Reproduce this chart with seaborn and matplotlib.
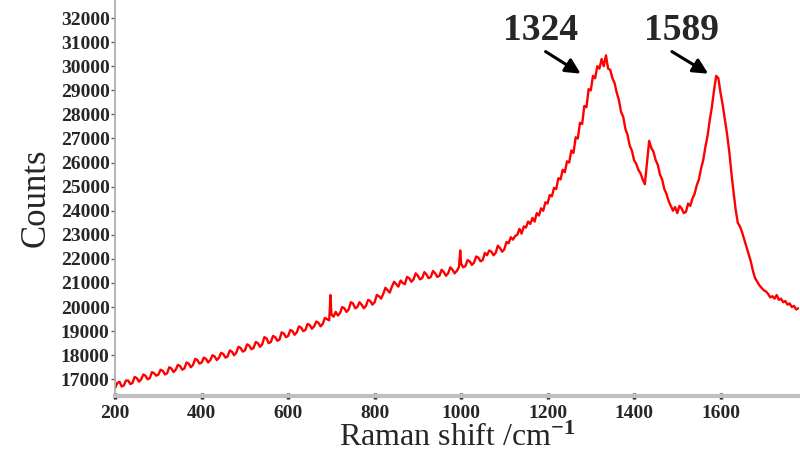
import matplotlib
matplotlib.use("Agg")
import matplotlib.pyplot as plt
import seaborn as sns
import pandas as pd
from matplotlib.ticker import MultipleLocator

raman_shift = [
    200, 205, 210, 215, 220, 225, 230, 235, 240, 245, 250, 255, 260, 265, 270, 275, 280, 285, 290, 295, 300,
    305, 310, 315, 320, 325, 330, 335, 340, 345, 350, 355, 360, 365, 370, 375, 380, 385, 390, 395, 400,
    405, 410, 415, 420, 425, 430, 435, 440, 445, 450, 455, 460, 465, 470, 475, 480, 485, 490, 495, 500,
    505, 510, 515, 520, 525, 530, 535, 540, 545, 550, 555, 560, 565, 570, 575, 580, 585, 590, 595, 600,
    605, 610, 615, 620, 625, 630, 635, 640, 645, 650, 655, 660, 665, 670, 675, 680, 685, 690, 695, 698, 700, 705,
    710, 715, 720, 725, 730, 735, 740, 745, 750, 755, 760, 765, 770, 775, 780, 785, 790, 795, 800,
    805, 810, 815, 820, 825, 830, 835, 840, 845, 850, 855, 860, 865, 870, 875, 880, 885, 890, 895, 900,
    905, 910, 915, 920, 925, 930, 935, 940, 945, 950, 955, 960, 965, 970, 975, 980, 985, 990, 995, 998, 1000,
    1005, 1010, 1015, 1020, 1025, 1030, 1035, 1040, 1045, 1050, 1055, 1060, 1065, 1070, 1075, 1080, 1085, 1090, 1095, 1100,
    1105, 1110, 1115, 1120, 1125, 1130, 1135, 1140, 1145, 1150, 1155, 1160, 1165, 1170, 1175, 1180, 1185, 1190, 1195, 1200,
    1205, 1210, 1215, 1220, 1225, 1230, 1235, 1240, 1245, 1250, 1255, 1260, 1265, 1270, 1275, 1280, 1285, 1290, 1295, 1300,
    1305, 1310, 1315, 1320, 1325, 1330, 1335, 1340, 1345, 1350, 1355, 1360, 1365, 1370, 1375, 1380, 1385, 1390, 1395, 1400,
    1405, 1410, 1415, 1420, 1425, 1430, 1435, 1440, 1445, 1450, 1455, 1460, 1465, 1470, 1475, 1480, 1485, 1490, 1495, 1500,
    1505, 1510, 1515, 1520, 1525, 1530, 1535, 1540, 1545, 1550, 1555, 1560, 1565, 1570, 1575, 1580, 1585, 1590, 1595, 1600,
    1605, 1610, 1615, 1620, 1625, 1630, 1635, 1640, 1645, 1650, 1655, 1660, 1665, 1670, 1675, 1680, 1685, 1690, 1695, 1700,
    1705, 1710, 1715, 1720, 1725, 1730, 1735, 1740, 1745, 1750, 1755, 1760, 1765, 1770, 1775, 1780,
]
counts = [
    16650, 16850, 16900, 16700, 16750, 16950, 16950, 16800, 16850, 17100, 17050, 16900, 17000, 17200, 17150, 17000, 17050, 17300, 17250, 17150, 17200,
    17400, 17350, 17200, 17250, 17500, 17450, 17300, 17400, 17600, 17550, 17400, 17450, 17700, 17650, 17500, 17600, 17850, 17800, 17650, 17700,
    17900, 17850, 17700, 17800, 18000, 17950, 17800, 17900, 18100, 18050, 17900, 17950, 18200, 18150, 18000, 18100, 18350, 18300, 18150, 18200,
    18450, 18400, 18250, 18300, 18550, 18500, 18350, 18450, 18750, 18700, 18500, 18550, 18800, 18750, 18600, 18650, 18950, 18900, 18750, 18800,
    19050, 19000, 18850, 18950, 19200, 19150, 19000, 19050, 19300, 19250, 19100, 19200, 19400, 19350, 19200, 19300, 19550, 19500, 19450, 20500, 19700, 19600,
    19800, 19650, 19750, 20000, 19950, 19800, 19900, 20200, 20150, 19950, 20000, 20200, 20100, 19950, 20050, 20300, 20250, 20100, 20200,
    20500, 20450, 20350, 20550, 20800, 20700, 20600, 20850, 21050, 20950, 20850, 21100, 21000, 20950, 21250, 21200, 21050, 21150, 21400, 21300,
    21150, 21200, 21450, 21350, 21200, 21250, 21500, 21400, 21250, 21300, 21550, 21450, 21300, 21400, 21650, 21550, 21400, 21500, 21650, 22350, 21800,
    21650, 21700, 21950, 21900, 21750, 21850, 22100, 22050, 21900, 21950, 22250, 22150, 22350, 22300, 22150, 22250, 22550, 22450, 22300, 22400,
    22700, 22650, 22900, 22800, 22950, 23000, 23250, 23050, 23350, 23300, 23550, 23450, 23700, 23550, 23900, 23800, 24100, 24000, 24350, 24300,
    24650, 24600, 24950, 24900, 25350, 25300, 25700, 25600, 26050, 26000, 26500, 26400, 27050, 27000, 27650, 27600, 28350, 28300, 29050, 29000,
    29600, 29500, 30000, 29900, 30300, 30000, 30450, 29900, 29850, 29500, 29300, 28900, 28600, 28100, 27900, 27400, 27150, 26700, 26500, 26100,
    25950, 25700, 25550, 25300, 25100, 26000, 26900, 26600, 26450, 26100, 25900, 25500, 25300, 24900, 24700, 24400, 24200, 24000, 24150, 23900,
    24200, 24100, 23900, 23950, 24300, 24200, 24500, 24700, 25050, 25300, 25750, 26100, 26650, 27100, 27750, 28300, 29000, 29600, 29500, 28900,
    28400, 27800, 27200, 26500, 25600, 24800, 24050, 23500, 23350, 23100, 22800, 22500, 22200, 21900, 21500, 21200, 21050, 20900, 20800, 20700,
    20650, 20550, 20400, 20450, 20350, 20500, 20300, 20350, 20200, 20250, 20100, 20150, 20000, 20050, 19900, 19950,
]
x_ticks = [200, 400, 600, 800, 1000, 1200, 1400, 1600]
y_ticks = [17000, 18000, 19000, 20000, 21000, 22000, 23000, 24000, 25000, 26000,
           27000, 28000, 29000, 30000, 31000, 32000]
peak_labels = ["1324", "1589"]
arrow_tails = [(1190, 30670), (1482, 30670)]
arrow_tips = [(1282, 29630), (1577, 29630)]
label_pos = [(1183, 31500), (1509, 31500)]

sns.set_style("white")
plt.rcParams["font.family"] = ["Liberation Serif", "DejaVu Serif"]
plt.rcParams["mathtext.fontset"] = "custom"
plt.rcParams["mathtext.rm"] = "Liberation Serif"
plt.rcParams["mathtext.it"] = "Liberation Serif:italic"
plt.rcParams["mathtext.bf"] = "Liberation Serif:bold"

df = pd.DataFrame({"shift": raman_shift, "counts": counts})

fig = plt.figure(figsize=(8, 4.58), dpi=100)
ax = fig.add_axes([0.144, 0.135, 0.855, 0.865])
sns.lineplot(data=df, x="shift", y="counts", color="#ff0000", linewidth=1.7, ax=ax)

ax.set_xlim(200, 1782)
ax.set_ylim(16300, 32750)
ax.set_xticks(x_ticks)
ax.set_yticks(y_ticks)
ax.xaxis.set_minor_locator(MultipleLocator(50))
ax.set_xticklabels([str(v) for v in x_ticks], fontsize=14, fontweight="bold")
ax.set_yticklabels([str(v) for v in y_ticks], fontsize=14, fontweight="bold")
ax.tick_params(axis="y", direction="out", length=3, width=1, color="#606060", pad=1, left=True)
ax.tick_params(axis="x", which="major", direction="inout", length=4, width=2.5, color="#202020", pad=4, bottom=True)
ax.tick_params(axis="x", which="minor", direction="inout", length=3, width=1.5, color="#202020", bottom=True)

for s in ["top", "right"]:
    ax.spines[s].set_visible(False)
ax.spines["left"].set_color("#a8a8a8")
ax.spines["left"].set_linewidth(1.2)
ax.spines["bottom"].set_color("#c0c0c0")
ax.spines["bottom"].set_linewidth(3)

ax.set_xlabel("Raman shift /cm$^{\\mathbf{-1}}$", fontsize=23, labelpad=2)
ax.set_ylabel("Counts", fontsize=25, labelpad=6)

for lab, tail, tip, pos in zip(peak_labels, arrow_tails, arrow_tips, label_pos):
    ax.annotate("", xy=tip, xytext=tail,
                arrowprops=dict(arrowstyle="-|>,head_length=0.9,head_width=0.45", color="black", lw=2.2))
    ax.text(pos[0], pos[1], lab, fontsize=27, fontweight="bold", ha="center", va="center")

fig.savefig("out.png", dpi=100)
